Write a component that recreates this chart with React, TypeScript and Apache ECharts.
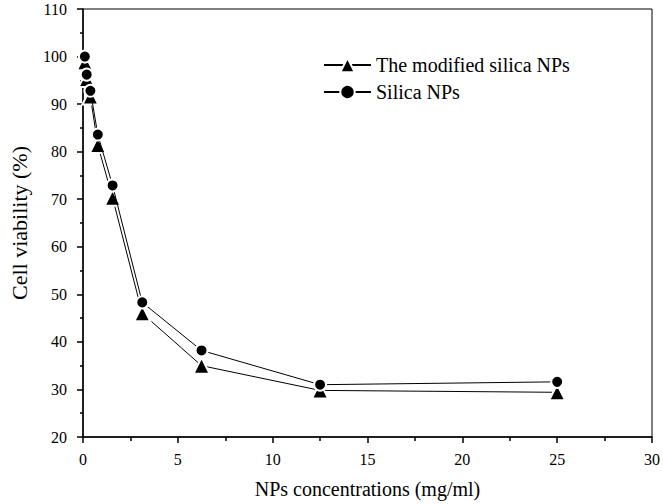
import React, { useEffect, useRef } from "react";
import * as echarts from "echarts";

const concentrations = [0.098, 0.195, 0.39, 0.78, 1.56, 3.125, 6.25, 12.5, 25];
const modifiedSilica = [98.8, 95.3, 91.6, 81.4, 70.3, 46.0, 35.0, 29.8, 29.4];
const silica = [100, 96.2, 92.8, 83.6, 72.9, 48.3, 38.2, 31.0, 31.6];
const seriesNames = ["The modified silica NPs", "Silica NPs"];
const xTitle = "NPs concentrations (mg/ml)";
const yTitle = "Cell viability (%)";

const FONT = "'Liberation Serif', 'Times New Roman', serif";

export default function App() {
  const ref = useRef<HTMLDivElement>(null);
  useEffect(() => {
    if (!ref.current) return;
    const chart = echarts.init(ref.current, null, { renderer: "svg" });
    const pair = (ys: number[]) => concentrations.map((x, i) => [x, ys[i]]);
    chart.setOption({
      animation: false,
      backgroundColor: "#fff",
      grid: {
        left: 73,
        top: 9,
        right: 7,
        bottom: 66,
        show: true,
        borderColor: "#000",
        borderWidth: 1,
      },
      legend: {
        orient: "vertical",
        left: 323,
        top: 55,
        padding: 0,
        itemWidth: 47,
        itemHeight: 18,
        itemGap: 7,
        textStyle: { fontFamily: FONT, fontSize: 20, color: "#000" },
        data: seriesNames,
      },
      xAxis: {
        type: "value",
        min: 0,
        max: 30,
        interval: 5,
        name: xTitle,
        nameLocation: "middle",
        nameGap: 42,
        nameTextStyle: { fontFamily: FONT, fontSize: 20, color: "#000" },
        axisLine: { show: true, onZero: false, lineStyle: { color: "#000", width: 1.5 } },
        axisTick: { show: true, inside: false, length: 6, lineStyle: { color: "#000", width: 1.5 } },
        minorTick: { show: true, splitNumber: 2, length: 4, lineStyle: { color: "#000", width: 1.5 } },
        axisLabel: { fontFamily: FONT, fontSize: 16, color: "#000", margin: 14 },
        splitLine: { show: false },
      },
      yAxis: {
        type: "value",
        min: 20,
        max: 110,
        interval: 10,
        name: yTitle,
        nameLocation: "middle",
        nameGap: 53,
        nameTextStyle: { fontFamily: FONT, fontSize: 22, color: "#000" },
        axisLine: { show: true, onZero: false, lineStyle: { color: "#000", width: 1.5 } },
        axisTick: { show: true, inside: false, length: 6, lineStyle: { color: "#000", width: 1.5 } },
        minorTick: { show: true, splitNumber: 2, length: 3, lineStyle: { color: "#000", width: 1.5 } },
        axisLabel: { fontFamily: FONT, fontSize: 16, color: "#000", margin: 16 },
        splitLine: { show: false },
      },
      series: [
        {
          name: seriesNames[0],
          type: "line",
          data: pair(modifiedSilica),
          symbol: "triangle",
          symbolSize: 16,
          showAllSymbol: true,
          lineStyle: { color: "#000", width: 1 },
          itemStyle: { color: "#000", borderColor: "#fff", borderWidth: 2 },
          z: 2,
        },
        {
          name: seriesNames[1],
          type: "line",
          data: pair(silica),
          symbol: "circle",
          symbolSize: 12,
          showAllSymbol: true,
          lineStyle: { color: "#000", width: 1 },
          itemStyle: { color: "#000", borderColor: "#fff", borderWidth: 2 },
          z: 3,
        },
      ],
    });
    return () => chart.dispose();
  }, []);
  return (
    <div
      ref={ref}
      style={{ position: "absolute", left: 0, top: 0, width: 663, height: 504 }}
    />
  );
}
